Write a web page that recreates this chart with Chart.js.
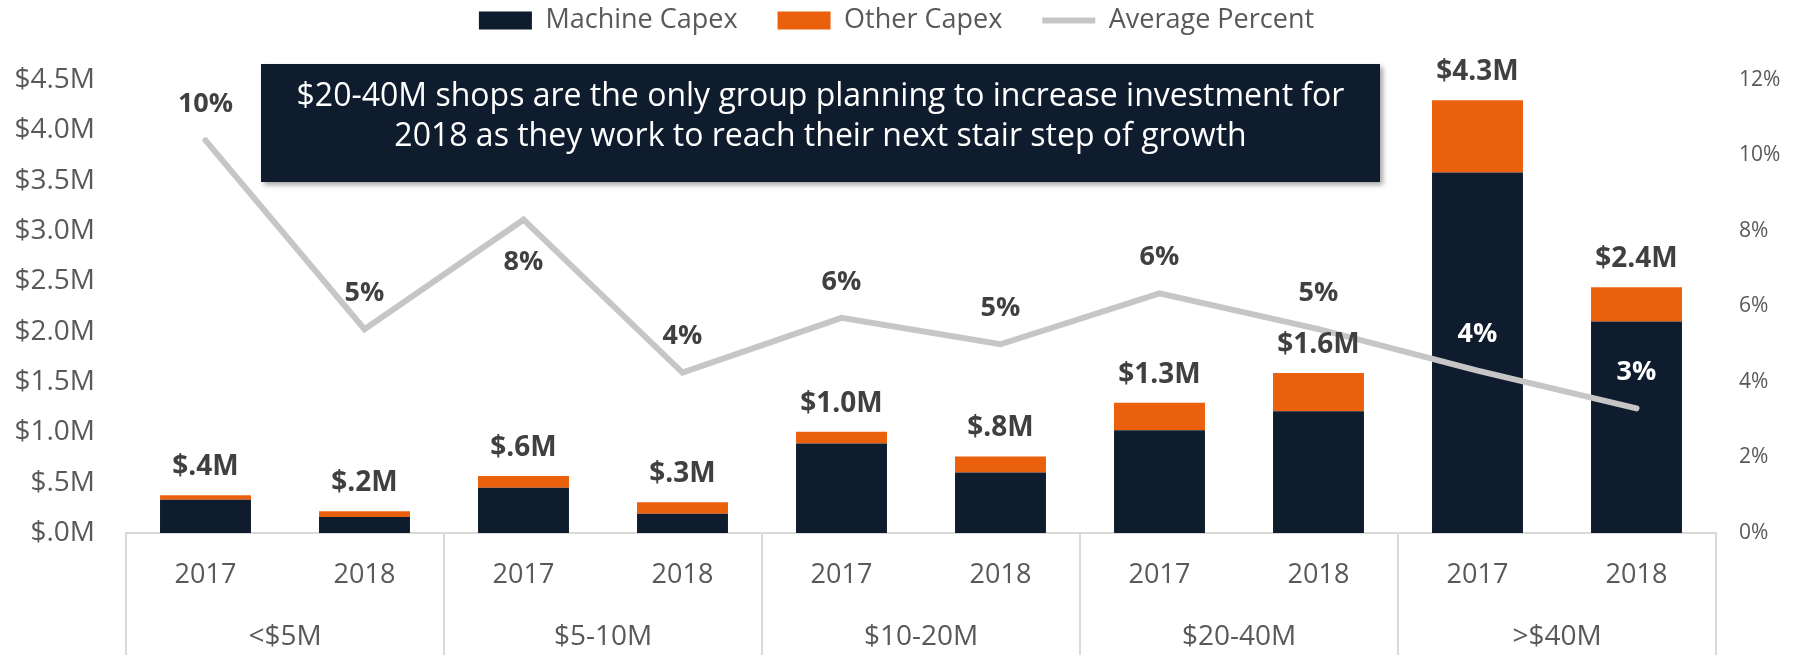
<!DOCTYPE html>
<html>
<head>
<meta charset="utf-8">
<title>Capex by shop size</title>
<script src="https://cdn.jsdelivr.net/npm/chart.js@4.4.1/dist/chart.umd.min.js"></script>
<style>
    html, body { margin: 0; padding: 0; background: #fff; }
    #wrap { width: 1793px; height: 655px; }
</style>
</head>
<body>
<div id="wrap"><canvas id="capexChart"></canvas></div>
<script>
// Chart data ($M and %)
const yearLabels = ['2017', '2018', '2017', '2018', '2017', '2018', '2017', '2018', '2017', '2018'];
const groups = ['<$5M', '$5-10M', '$10-20M', '$20-40M', '>$40M'];
const machineCapex = [0.33, 0.16, 0.45, 0.19, 0.89, 0.60, 1.02, 1.21, 3.58, 2.10];
const otherCapex = [0.045, 0.055, 0.115, 0.115, 0.115, 0.16, 0.275, 0.38, 0.72, 0.34];
const avgPercent = [10.4, 5.4, 8.3, 4.25, 5.7, 5.0, 6.35, 5.4, 4.3, 3.3];
const headline = [
    '$20-40M shops are the only group planning to increase investment for',
    '2018 as they work to reach their next stair step of growth'
];

// Colors
const navy = '#0F1C2E';
const orange = '#EB600C';
const lineGrey = '#C6C6C6';
const textDark = '#404040';
const textGrey = '#595959';
const axisGrey = '#D9D9D9';
const FONT = '"Open Sans", "Noto Sans", sans-serif';

Chart.defaults.font.family = FONT;
Chart.defaults.color = textGrey;

function money(v) {
    if (v < 1) return '$.' + Math.round(v * 10) + 'M';
    return '$' + v.toFixed(1) + 'M';
}

// Give the legend some room below it
const legendSpacing = {
    id: 'legendSpacing',
    beforeInit(chart) {
        const origFit = chart.legend.fit;
        chart.legend.fit = function() {
            origFit.call(this);
            this.height += 36;
        };
    }
};

// Stack totals and line percentages
const valueLabels = {
    id: 'valueLabels',
    afterDatasetsDraw(chart) {
        const { ctx, scales: { x, y, y1 } } = chart;
        ctx.save();
        ctx.textAlign = 'center';
        ctx.textBaseline = 'middle';

        ctx.font = 'bold 28px ' + FONT;
        ctx.fillStyle = textDark;
        machineCapex.forEach((m, i) => {
            const total = m + otherCapex[i];
            ctx.fillText(money(total), x.getPixelForValue(i), y.getPixelForValue(total) - 28);
        });

        const below = [2];
        ctx.font = 'bold 27px ' + FONT;
        avgPercent.forEach((p, i) => {
            const px = x.getPixelForValue(i);
            const py = y1.getPixelForValue(p);
            const ly = below.includes(i) ? py + 43 : py - 36;
            const barTop = y.getPixelForValue(machineCapex[i] + otherCapex[i]);
            ctx.fillStyle = ly > barTop + 12 ? '#ffffff' : textDark;
            ctx.fillText(Math.round(p) + '%', px, ly);
        });
        ctx.restore();
    }
};

// Second row of the category axis (shop size groups)
const groupAxis = {
    id: 'groupAxis',
    afterDraw(chart) {
        const { ctx, chartArea, scales: { x } } = chart;
        const per = yearLabels.length / groups.length;
        const edges = [];
        for (let g = 0; g <= groups.length; g++) {
            if (g === 0) edges.push(chartArea.left);
            else if (g === groups.length) edges.push(chartArea.right);
            else edges.push((x.getPixelForValue(g * per - 1) + x.getPixelForValue(g * per)) / 2);
        }

        ctx.save();
        ctx.strokeStyle = axisGrey;
        ctx.lineWidth = 2;
        edges.forEach(e => {
            ctx.beginPath();
            ctx.moveTo(e, chartArea.bottom);
            ctx.lineTo(e, chart.height);
            ctx.stroke();
        });

        ctx.font = '28px ' + FONT;
        ctx.fillStyle = textGrey;
        ctx.textAlign = 'center';
        ctx.textBaseline = 'middle';
        groups.forEach((g, i) => {
            ctx.fillText(g, (edges[i] + edges[i + 1]) / 2, chartArea.bottom + 104);
        });
        ctx.restore();
    }
};

// Headline callout box
const headlineBox = {
    id: 'headlineBox',
    afterDraw(chart) {
        const { ctx } = chart;
        const box = { x: 261, y: 64, w: 1119, h: 118 };

        ctx.save();
        ctx.shadowColor = 'rgba(0, 0, 0, 0.35)';
        ctx.shadowBlur = 5;
        ctx.shadowOffsetX = 3;
        ctx.shadowOffsetY = 3;
        ctx.fillStyle = navy;
        ctx.fillRect(box.x, box.y, box.w, box.h);
        ctx.restore();

        ctx.save();
        let size = 32;
        ctx.font = size + 'px ' + FONT;
        const w = ctx.measureText(headline[0]).width;
        size = Math.min(32, size * 1085 / w);
        ctx.font = size + 'px ' + FONT;
        ctx.fillStyle = '#ffffff';
        ctx.textAlign = 'center';
        ctx.textBaseline = 'middle';
        const cx = box.x + box.w / 2;
        ctx.fillText(headline[0], cx, box.y + 33);
        ctx.fillText(headline[1], cx, box.y + 73);
        ctx.restore();
    }
};

const ctx = document.getElementById('capexChart');

new Chart(ctx, {
    data: {
        labels: yearLabels,
        datasets: [
            {
                type: 'bar',
                label: 'Machine Capex',
                data: machineCapex,
                backgroundColor: navy,
                yAxisID: 'y',
                stack: 'capex',
                order: 1
            },
            {
                type: 'bar',
                label: 'Other Capex',
                data: otherCapex,
                backgroundColor: orange,
                yAxisID: 'y',
                stack: 'capex',
                order: 1
            },
            {
                type: 'line',
                label: 'Average Percent',
                data: avgPercent,
                yAxisID: 'y1',
                borderColor: lineGrey,
                backgroundColor: lineGrey,
                borderWidth: 6,
                borderCapStyle: 'round',
                pointRadius: 0,
                tension: 0,
                order: 0
            }
        ]
    },
    options: {
        responsive: true,
        maintainAspectRatio: false,
        animation: false,
        layout: {
            // pulls the legend row up to the top edge
            padding: { top: -33, left: 0, right: 0, bottom: 0 }
        },
        datasets: {
            bar: {
                barPercentage: 0.572,
                categoryPercentage: 1
            }
        },
        plugins: {
            tooltip: { enabled: false },
            legend: {
                position: 'top',
                labels: {
                    usePointStyle: true,
                    pointStyleWidth: 53,
                    boxHeight: 18,
                    padding: 40,
                    color: textGrey,
                    font: { size: 27 },
                    sort: (a, b) => a.datasetIndex - b.datasetIndex,
                    generateLabels(chart) {
                        const items = Chart.defaults.plugins.legend.labels.generateLabels(chart);
                        items.forEach(item => {
                            const ds = chart.data.datasets[item.datasetIndex];
                            item.pointStyle = ds.type === 'line' ? 'line' : 'rect';
                        });
                        return items;
                    }
                }
            }
        },
        scales: {
            x: {
                stacked: true,
                grid: { display: false, drawTicks: false },
                border: { display: true, color: axisGrey, width: 2 },
                ticks: {
                    autoSkip: false,
                    maxRotation: 0,
                    padding: 26,
                    color: textGrey,
                    font: { size: 27 }
                },
                afterFit(scale) { scale.height = 122; }
            },
            y: {
                stacked: true,
                position: 'left',
                min: 0,
                max: 4.5,
                grid: { display: false, drawTicks: false },
                border: { display: false },
                ticks: {
                    stepSize: 0.5,
                    padding: 31,
                    color: textGrey,
                    font: { size: 28 },
                    callback: value => money(value)
                },
                afterFit(scale) { scale.width = 126; }
            },
            y1: {
                position: 'right',
                min: 0,
                max: 12,
                grid: { display: false, drawTicks: false },
                border: { display: false },
                ticks: {
                    stepSize: 2,
                    padding: 23,
                    color: textGrey,
                    font: { size: 21 },
                    callback: value => value + '%'
                },
                afterFit(scale) { scale.width = 77; }
            }
        }
    },
    plugins: [legendSpacing, valueLabels, groupAxis, headlineBox]
});
</script>
</body>
</html>
